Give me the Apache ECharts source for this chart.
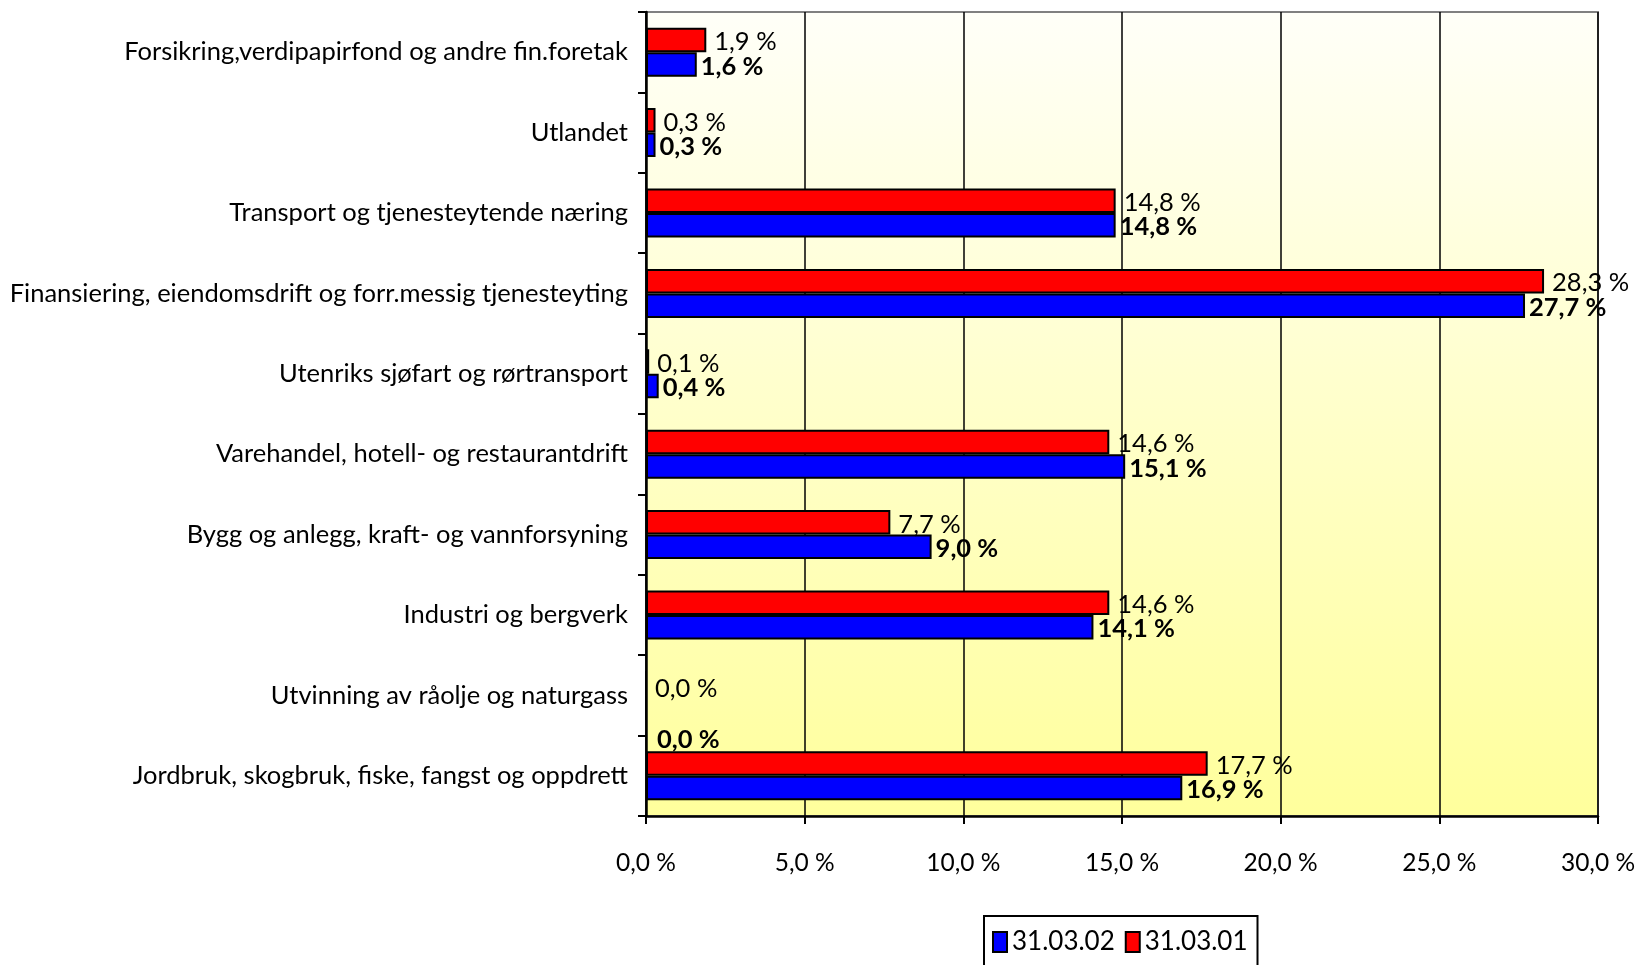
<!DOCTYPE html>
<html>
<head>
<meta charset="utf-8">
<script src="https://cdn.jsdelivr.net/npm/echarts@6/dist/echarts.min.js"></script>
<style>
html,body{margin:0;padding:0;background:#fff;}
#chart{width:1641px;height:965px;}
</style>
</head>
<body>
<div id="chart"></div>
<script>
var categories = [
  'Forsikring,verdipapirfond og andre fin.foretak',
  'Utlandet',
  'Transport og tjenesteytende næring',
  'Finansiering, eiendomsdrift og forr.messig tjenesteyting',
  'Utenriks sjøfart og rørtransport',
  'Varehandel, hotell- og restaurantdrift',
  'Bygg og anlegg, kraft- og vannforsyning',
  'Industri og bergverk',
  'Utvinning av råolje og naturgass',
  'Jordbruk, skogbruk, fiske, fangst og oppdrett'
];
var seriesNames = ['31.03.02', '31.03.01'];
var values0302 = [1.6, 0.3, 14.8, 27.7, 0.4, 15.1, 9.0, 14.1, 0.0, 16.9];
var values0301 = [1.9, 0.3, 14.8, 28.3, 0.1, 14.6, 7.7, 14.6, 0.0, 17.7];
var xTicks = [0, 5, 10, 15, 20, 25, 30];

var FONT = 'Lato';
function pct(v) { return v.toFixed(1).replace('.', ',') + ' %'; }

var chart = echarts.init(document.getElementById('chart'));

var blueData = values0302.map(function (v, i) {
  var d = { value: v };
  if (categories[i].indexOf('Utvinning') === 0) d.label = { offset: [6, 32] };
  return d;
});
var redData = values0301.map(function (v, i) {
  var d = { value: v };
  if (categories[i].indexOf('Utvinning') === 0) d.label = { offset: [0, 6] };
  return d;
});

chart.setOption({
  animation: false,
  textStyle: { fontFamily: FONT },
  grid: {
    left: 646, right: 43, top: 12, bottom: 149,
    show: true,
    borderColor: '#808080', borderWidth: 2,
    backgroundColor: new echarts.graphic.LinearGradient(0, 0, 0, 1, [
      { offset: 0, color: '#fffff8' },
      { offset: 1, color: '#ffff9c' }
    ])
  },
  legend: {
    data: seriesNames,
    left: 984, top: 916,
    backgroundColor: '#ffffff',
    borderColor: '#000', borderWidth: 2,
    padding: [13, 10, 30, 8],
    itemWidth: 14, itemHeight: 20, itemGap: 10,
    icon: 'rect',
    textStyle: { fontFamily: FONT, fontSize: 26, color: '#000' }
  },
  xAxis: {
    type: 'value',
    min: xTicks[0], max: xTicks[xTicks.length - 1], interval: 5,
    axisLine: { show: true, lineStyle: { color: '#000', width: 2.5 } },
    axisTick: { show: true, length: 8, lineStyle: { color: '#000', width: 2 } },
    axisLabel: { margin: 35, fontSize: 24.5, color: '#000', fontFamily: FONT,
      formatter: function (v) { return pct(v); } },
    splitLine: { show: true, lineStyle: { color: '#000', width: 1.5 } }
  },
  yAxis: {
    type: 'category',
    data: categories,
    inverse: true,
    axisLine: { show: true, lineStyle: { color: '#000', width: 2.5 } },
    axisTick: { show: true, length: 8, lineStyle: { color: '#000', width: 2 } },
    axisLabel: { margin: 18, fontSize: 25.5, color: '#000', fontFamily: FONT,
      padding: [12, 0, 0, 0] }
  },
  series: [
    {
      name: seriesNames[1], type: 'bar', data: redData,
      barCategoryGap: '39%', barGap: '0%',
      itemStyle: { color: '#ff0000', borderColor: '#000', borderWidth: 2 },
      label: { show: true, position: 'right', distance: 8, fontSize: 25.5,
        offset: [0, 2], color: '#000', fontFamily: FONT,
        formatter: function (p) { return pct(p.value); } }
    },
    {
      name: seriesNames[0], type: 'bar', data: blueData,
      barCategoryGap: '39%', barGap: '0%',
      itemStyle: { color: '#0000ff', borderColor: '#000', borderWidth: 2 },
      label: { show: true, position: 'right', distance: 4, fontSize: 25.5,
        offset: [0, 2], fontWeight: 'bold', color: '#000', fontFamily: FONT,
        formatter: function (p) { return pct(p.value); } }
    }
  ]
});
</script>
</body>
</html>
